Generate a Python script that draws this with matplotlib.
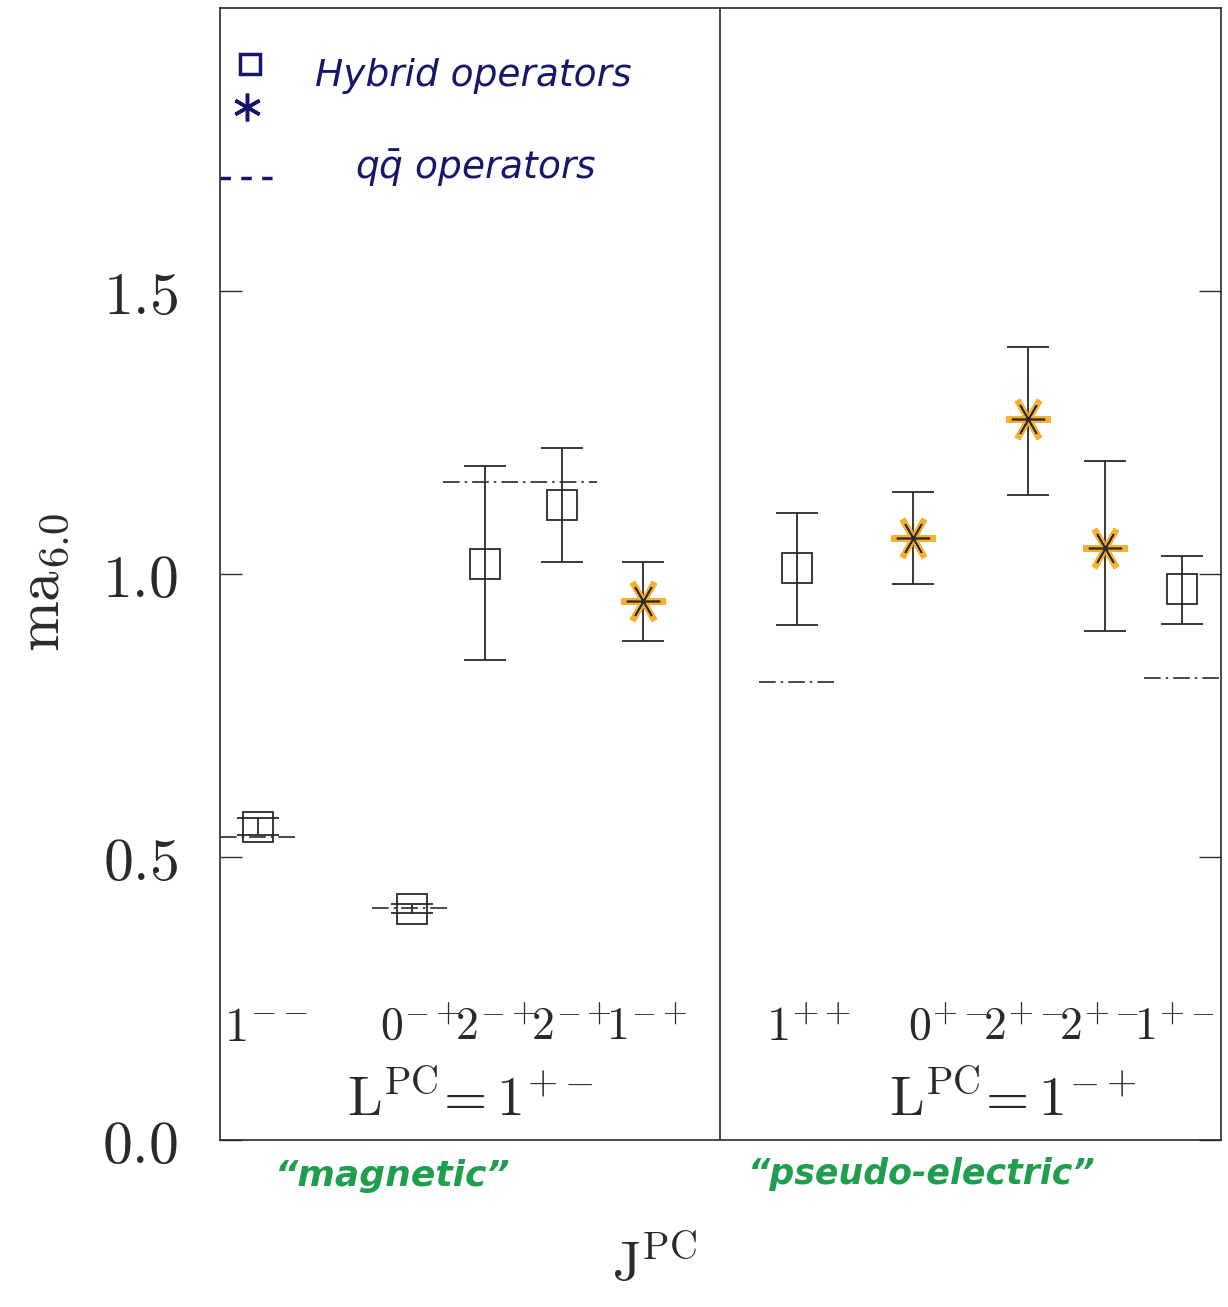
import matplotlib
matplotlib.use('Agg')
import matplotlib.pyplot as plt

plt.rcParams['mathtext.fontset'] = 'cm'

# positions along the J^PC axis, divider between the two L^PC groups
xpos = [0.5, 2.5, 3.45, 4.45, 5.5, 7.5, 9.0, 10.5, 11.5, 12.5]
divider = 6.5

states = [r'1^{--}', r'0^{-+}', r'2^{-+}', r'2^{-+}', r'1^{-+}',
          r'1^{++}', r'0^{+-}', r'2^{+-}', r'2^{+-}', r'1^{+-}']

mass = [0.553, 0.408, 1.018, 1.122, 0.952, 1.011, 1.064, 1.273, 1.046, 0.973]
err_lo = [0.015, 0.008, 0.170, 0.102, 0.071, 0.101, 0.082, 0.133, 0.147, 0.062]
err_hi = [0.015, 0.008, 0.172, 0.101, 0.068, 0.097, 0.080, 0.127, 0.154, 0.059]
kind = ['sq', 'sq', 'sq', 'sq', 'star', 'sq', 'star', 'star', 'star', 'sq']

# q-qbar operator levels: (x from, x to, mass)
qq_levels = [(0.0, 1.0, 0.535), (1.98, 3.0, 0.41), (2.9, 4.9, 1.163),
             (7.0, 8.0, 0.809), (12.0, 13.0, 0.816)]

group_labels = [r'$\mathrm{L}^{\mathrm{PC}}\!=1^{+-}$', r'$\mathrm{L}^{\mathrm{PC}}\!=1^{-+}$']
group_x = [3.25, 10.3]
yticks = [0.0, 0.5, 1.0, 1.5]

ink = '#2a2a2a'
orange = '#f5a81f'
navy = '#16166b'
green = '#1f9e4f'

fig = plt.figure(figsize=(12.28, 13.07), dpi=100)
ax = fig.add_axes([0.179, 0.128, 0.815, 0.866])

for i in range(len(xpos)):
    ax.errorbar(xpos[i], mass[i], yerr=[[err_lo[i]], [err_hi[i]]], fmt='none',
                ecolor=ink, elinewidth=1.3, capsize=15, capthick=1.3, zorder=3)
    if kind[i] == 'sq':
        ax.plot(xpos[i], mass[i], 's', ms=21, mfc='none', mec=ink, mew=1.3, zorder=4)
    else:
        ax.plot(xpos[i], mass[i], marker=(6, 2, 30), ms=32, mec=orange, mew=4.5,
                ls='none', zorder=4, alpha=0.9)
        ax.plot(xpos[i], mass[i], marker=(6, 2, 30), ms=24, mec=ink, mew=1.2,
                ls='none', zorder=5)

# J^PC state labels: single ground states, then the packed hybrid rows
ax.text(xpos[0] + 0.1, 0.20, '$' + states[0] + '$', fontsize=35,
        ha='center', va='center', color=ink)
ax.text(xpos[5] + 0.15, 0.20, '$' + states[5] + '$', fontsize=35,
        ha='center', va='center', color=ink)
left_row = r'\!\!'.join(states[1:5])
right_row = r'\!\!'.join(states[6:10])
ax.text(sum(xpos[1:5]) / 4 + 0.1, 0.20, '$' + left_row + '$', fontsize=33,
        ha='center', va='center', color=ink)
ax.text(sum(xpos[6:10]) / 4 + 0.05, 0.20, '$' + right_row + '$', fontsize=33,
        ha='center', va='center', color=ink)

for x0, x1, m in qq_levels:
    ax.plot([x0, x1], [m, m], color=ink, lw=1.2, ls=(0, (10, 3, 1.5, 3)), zorder=2)

ax.axvline(divider, color=ink, lw=1.2)
for gx, gl in zip(group_x, group_labels):
    ax.text(gx, 0.07, gl, fontsize=40, ha='center', va='center', color=ink)

ax.set_xlim(0, 13)
ax.set_ylim(0, 2.0)
ax.set_xticks([])
ax.set_yticks(yticks)
ax.set_yticklabels(['$%.1f$' % t for t in yticks], fontsize=43, color=ink)
ax.tick_params(axis='y', direction='in', length=16, width=1.0, pad=30,
               right=True, colors=ink, labelcolor=ink)
for s in ax.spines.values():
    s.set_linewidth(1.2)
    s.set_color(ink)

fig.text(0.034, 0.554, r'$\mathrm{ma}_{6.0}$', fontsize=44, rotation=90,
         ha='center', va='center', color=ink)
fig.text(0.533, 0.032, r'$\mathrm{J}^{\mathrm{PC}}$', fontsize=40,
         ha='center', va='center', color=ink)

# handwritten legend
ax.plot([0.030], [0.950], 's', ms=15, mfc='none', mec=navy, mew=2.5, transform=ax.transAxes)
ax.plot([0.027], [0.912], marker=(6, 2, 0), ms=20, mec=navy, mew=2.5, transform=ax.transAxes)
ax.plot([0.000, 0.060], [0.850, 0.850], color=navy, lw=2.5, ls=(0, (3, 3)),
        transform=ax.transAxes, clip_on=False)
ax.text(0.095, 0.940, 'Hybrid operators', fontsize=27, fontstyle='italic',
        color=navy, transform=ax.transAxes, va='center')
ax.text(0.135, 0.858, r'$q\bar{q}$ operators', fontsize=27, fontstyle='italic',
        color=navy, transform=ax.transAxes, va='center', math_fontfamily='dejavusans')

fig.text(0.320, 0.100, '\u201cmagnetic\u201d', fontsize=26, fontstyle='italic',
         color=green, ha='center', va='center', fontweight='bold')
fig.text(0.750, 0.102, '\u201cpseudo-electric\u201d', fontsize=25, fontstyle='italic',
         color=green, ha='center', va='center', fontweight='bold')

fig.savefig('out.png', dpi=100, facecolor='white')
